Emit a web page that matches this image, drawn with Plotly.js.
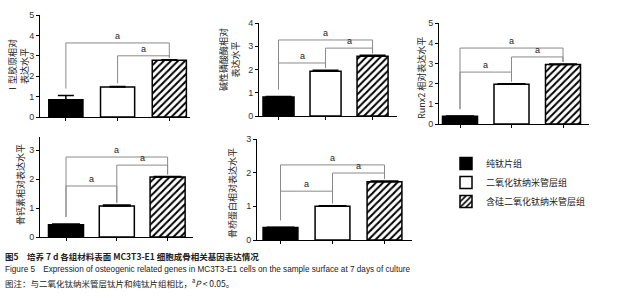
<!DOCTYPE html>
<html>
<head>
<meta charset="utf-8">
<script src="https://cdn.plot.ly/plotly-3.0.1.min.js"></script>
<style>html,body{margin:0;padding:0;background:#fff;}</style>
</head>
<body>
<div id="plot" style="width:624px;height:300px;"></div>
<script>
// groups and gene labels
const groups = ["纯钛片组", "二氧化钛纳米管层组", "含硅二氧化钛纳米管层组"];
const geneTitles = [
  "Ⅰ型胶原相对<br>表达水平",
  "碱性磷酸酶相对<br>表达水平",
  "Runx2 相对表达水平",
  "骨钙素相对表达水平",
  "骨桥蛋白相对表达水平",
];

// relative expression (mean) and SD, one array per gene
const col1 = [0.85, 1.47, 2.78];
const col1Err = [0.2, 0.03, 0.03];
const alp = [0.82, 1.93, 2.57];
const alpErr = [0.02, 0.04, 0.04];
const runx2 = [0.38, 1.97, 2.95];
const runx2Err = [0.01, 0.02, 0.02];
const ocn = [0.42, 1.07, 2.07];
const ocnErr = [0.03, 0.03, 0.02];
const opn = [0.37, 1.0, 1.73];
const opnErr = [0.01, 0.02, 0.02];

// significance brackets: [from group, to group, bracket level]
const col1Brk = [[0, 2, 3.63], [1, 2, 3.0]];
const alpBrk = [[0, 2, 3.27], [1, 2, 2.92], [0, 1, 2.28]];
const runx2Brk = [[0, 2, 3.76], [1, 2, 3.32], [0, 1, 2.57]];
const ocnBrk = [[0, 2, 2.76], [1, 2, 2.48], [0, 1, 1.76]];
const opnBrk = [[0, 2, 2.23], [1, 2, 1.99], [0, 1, 1.45]];

const W = 624, H = 300;
const fnt = "Liberation Sans, Arial, Noto Sans CJK SC, sans-serif";
const cjk = "Noto Sans CJK SC, Liberation Sans, sans-serif";

// panel placement in pixels
const panels = [
  { vals: col1, err: col1Err, brk: col1Brk, x: [40, 190], y: [15, 117], xr: [-0.5, 2.4], yr: [0, 5], bw: 0.66, cap: 8, tx: 19, ty: 66 },
  { vals: alp, err: alpErr, brk: alpBrk, x: [259, 397], y: [23, 116], xr: [-0.415, 2.52], yr: [0, 4], bw: 0.66, cap: 13, tx: 229, ty: 59 },
  { vals: runx2, err: runx2Err, brk: runx2Brk, x: [439, 589], y: [23, 124], xr: [-0.408, 2.505], yr: [0, 5], bw: 0.68, cap: 14, tx: 421, ty: 78 },
  { vals: ocn, err: ocnErr, brk: ocnBrk, x: [40, 193], y: [137, 237], xr: [-0.512, 2.5], yr: [0, 3.45], bw: 0.69, cap: 14, tx: 20, ty: 185 },
  { vals: opn, err: opnErr, brk: opnBrk, x: [257, 412], y: [139, 240], xr: [-0.452, 2.529], yr: [0, 3], bw: 0.67, cap: 14, tx: 232, ty: 193 },
];

const fills = ["#000000", "#ffffff", "#ffffff"];
const patterns = ["", "", "/"];

const data = [];
const shapes = [];
const annotations = [];
const layout = {
  width: W,
  height: H,
  margin: { l: 0, r: 0, t: 0, b: 0 },
  paper_bgcolor: "#fff",
  plot_bgcolor: "#fff",
  barmode: "overlay",
  showlegend: true,
  legend: {
    x: 446 / W, y: 1 - 149 / H, xanchor: "left", yanchor: "top",
    font: { family: cjk, size: 9, color: "#222" },
    tracegroupgap: 0, bgcolor: "rgba(0,0,0,0)",
  },
  font: { family: fnt, size: 9, color: "#222" },
};

panels.forEach((p, k) => {
  const n = k === 0 ? "" : String(k + 1);
  const xa = "x" + n, ya = "y" + n;
  layout["xaxis" + n] = {
    domain: [p.x[0] / W, p.x[1] / W],
    range: p.xr,
    anchor: ya,
    showline: true, linecolor: "#000", linewidth: 1,
    showgrid: false, zeroline: false,
    tickvals: [0, 1, 2], showticklabels: false,
    ticks: "outside", ticklen: 3, tickcolor: "#000", tickwidth: 1,
    fixedrange: true,
  };
  layout["yaxis" + n] = {
    domain: [1 - p.y[1] / H, 1 - p.y[0] / H],
    range: p.yr,
    anchor: xa,
    showline: true, linecolor: "#000", linewidth: 1,
    showgrid: false, zeroline: false,
    dtick: 1, ticks: "outside", ticklen: 3, tickcolor: "#000", tickwidth: 1,
    tickfont: { family: fnt, size: 9, color: "#333" },
    fixedrange: true,
  };

  groups.forEach((g, i) => {
    data.push({
      type: "bar",
      name: g,
      showlegend: k === 0,
      x: [i],
      y: [p.vals[i]],
      width: p.bw,
      xaxis: xa,
      yaxis: ya,
      marker: {
        color: fills[i],
        line: { color: "#000", width: 1.5 },
        pattern: { shape: patterns[i], fgcolor: "#000", bgcolor: "#fff", size: 5, solidity: 0.4 },
      },
      error_y: {
        type: "data", symmetric: false,
        array: [p.err[i]], arrayminus: [0],
        color: "#000", thickness: 1.5, width: p.cap,
      },
      hoverinfo: "skip",
    });
  });

  // data units per pixel
  const upp = (p.yr[1] - p.yr[0]) / (p.y[1] - p.y[0]);
  p.brk.forEach(([i, j, lev]) => {
    const lb = p.vals[i] + p.err[i] + (i === 0 ? 7 : 3) * upp;
    const rb = p.vals[j] + p.err[j] + 2 * upp;
    const line = { color: "#8a8a8a", width: 1 };
    shapes.push({ type: "path", xref: xa, yref: ya, line: line,
      path: `M ${i} ${lb} L ${i} ${lev} L ${j} ${lev} L ${j} ${rb}` });
    annotations.push({
      xref: xa, yref: ya, x: (i + j) / 2, y: lev, yanchor: "bottom", yshift: 0,
      text: "a", showarrow: false, font: { family: fnt, size: 9, color: "#222" },
    });
  });

  annotations.push({
    xref: "paper", yref: "paper", x: p.tx / W, y: 1 - p.ty / H,
    xanchor: "center", yanchor: "middle", textangle: -90,
    text: geneTitles[k], showarrow: false,
    font: { family: cjk, size: 9, color: "#222" },
  });
});

// figure caption
const caption = [
  "<b>图5　培养 7 d 各组材料表面 MC3T3-E1 细胞成骨相关基因表达情况</b>",
  "Figure 5　Expression of osteogenic related genes in MC3T3-E1 cells on the sample surface at 7 days of culture",
  "图注：与二氧化钛纳米管层钛片和纯钛片组相比，<sup>a</sup><i>P</i> < 0.05。",
];
const capY = [256, 269, 282];
const capSize = [8.5, 8.2, 8.5];
caption.forEach((t, i) => {
  annotations.push({
    xref: "paper", yref: "paper", x: 3 / W, y: 1 - capY[i] / H,
    xanchor: "left", yanchor: "middle", text: t, showarrow: false,
    font: { family: i === 1 ? fnt : cjk, size: capSize[i], color: "#222" },
  });
});

layout.shapes = shapes;
layout.annotations = annotations;

Plotly.newPlot("plot", data, layout, { staticPlot: true, displayModeBar: false });
</script>
</body>
</html>
